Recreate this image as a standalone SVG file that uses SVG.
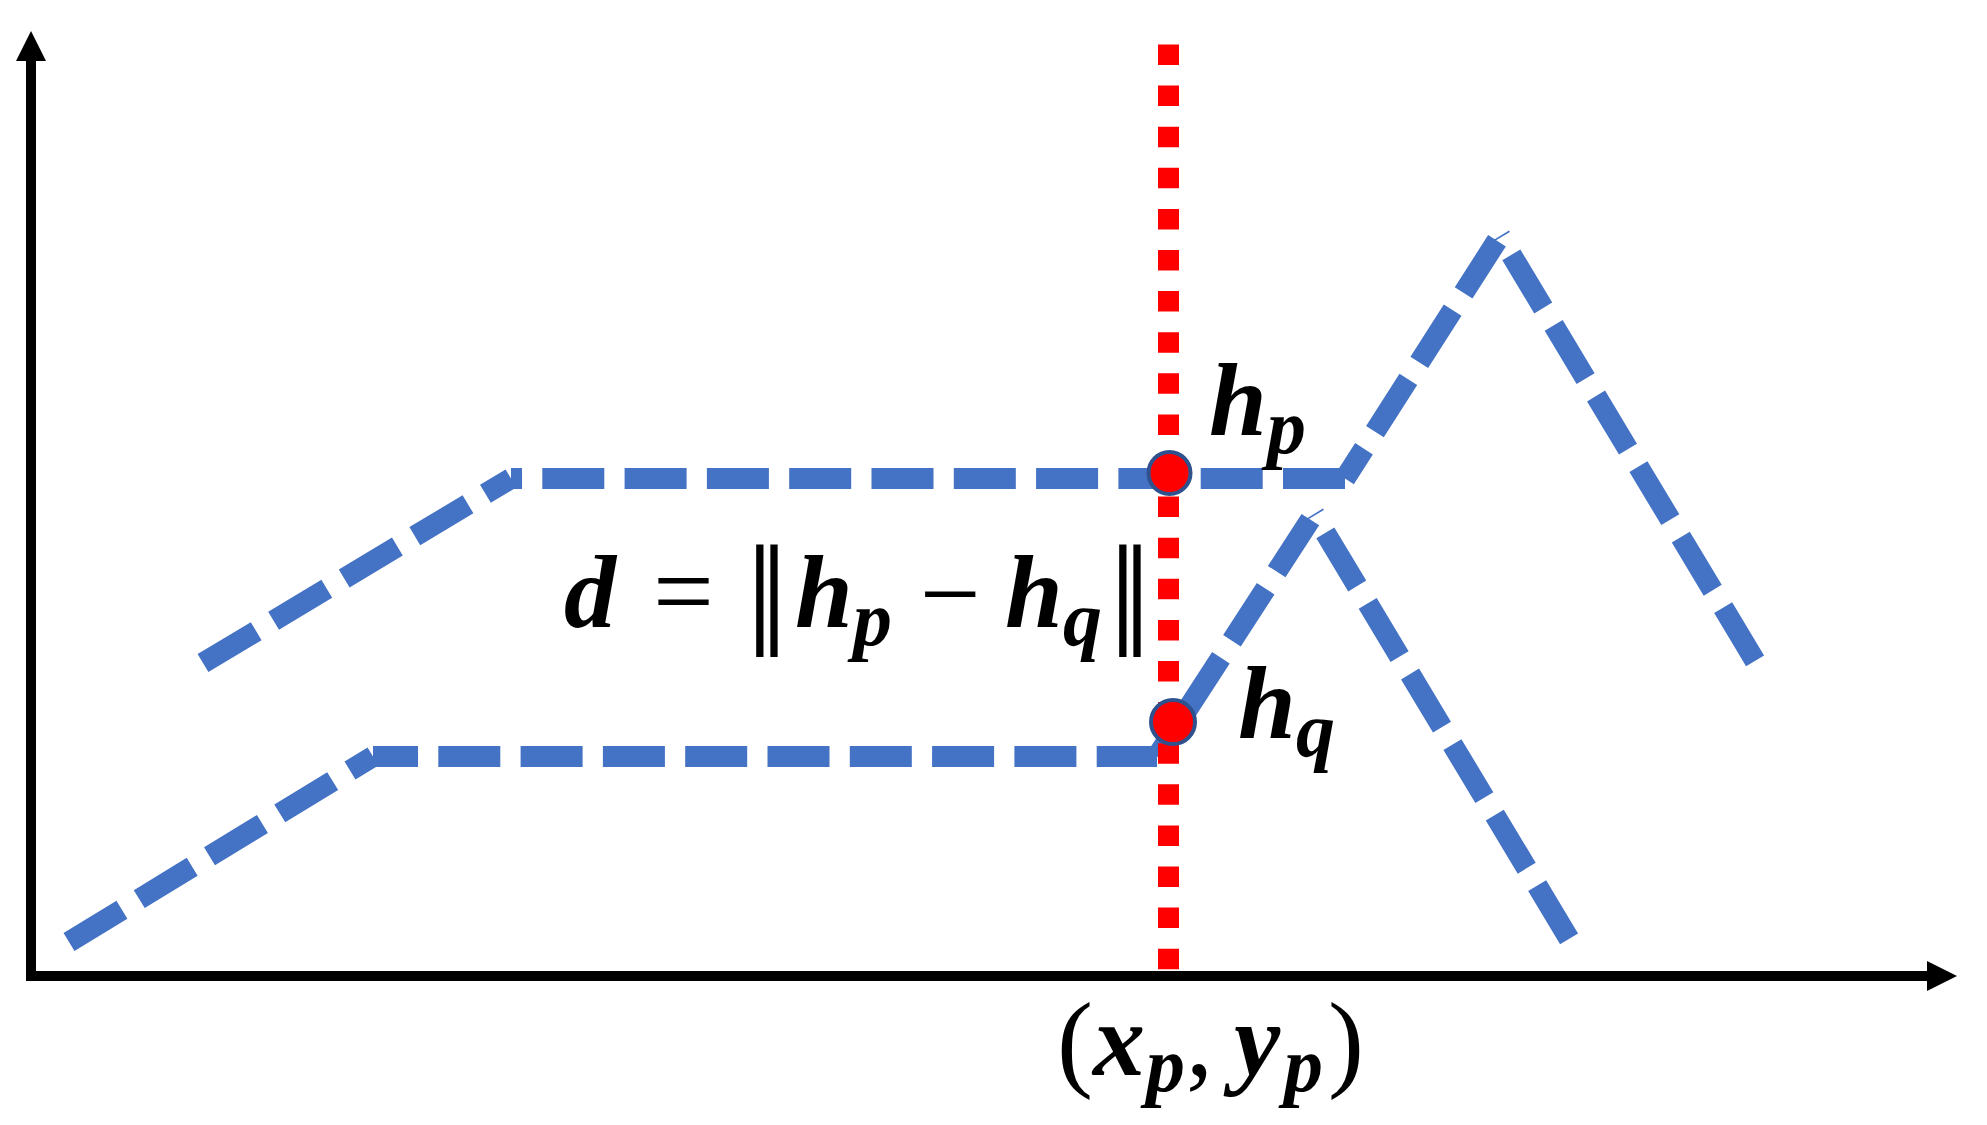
<svg xmlns="http://www.w3.org/2000/svg" width="1987" height="1125" viewBox="0 0 1987 1125">
<style>
.axis{stroke:#000;stroke-width:10;fill:none}
.blue{stroke:#4472C4;stroke-width:21;fill:none;stroke-dasharray:62 20.3}
.red{stroke:#FF0000;stroke-width:21;fill:none;stroke-dasharray:20.5 20.6}
.pt{fill:#FF0000;stroke:#2F528F;stroke-width:4}
.mi{font-family:"Liberation Serif","DejaVu Serif",serif;font-style:italic;font-weight:bold;font-size:104px;fill:#000}
.sub{font-family:"Liberation Serif","DejaVu Serif",serif;font-style:italic;font-weight:bold;font-size:78px;fill:#000}
.mo{font-family:"Liberation Serif","DejaVu Serif",serif;font-size:108px;fill:#000}
.bar{font-family:"DejaVu Sans",sans-serif;font-size:110px;fill:#000}
</style>
<defs>
<marker id="arr" viewBox="0 0 30 30" markerWidth="30" markerHeight="30" refX="0" refY="15" orient="auto" markerUnits="userSpaceOnUse">
<path d="M0,0 L30,15 L0,30 z" fill="#000"/>
</marker>
</defs>
<rect width="1987" height="1125" fill="#fff"/>
<g id="connectors">
<g id="axes">
<line class="axis" x1="31" y1="981" x2="31" y2="61" marker-end="url(#arr)"/>
<line class="axis" x1="26" y1="976" x2="1927" y2="976" marker-end="url(#arr)"/>
</g>
<g id="curve-upper">
<line class="blue" x1="203" y1="663" x2="511" y2="478.5" stroke-dashoffset="0"/>
<line class="blue" x1="511" y1="478.5" x2="1345" y2="478.5" stroke-dashoffset="51"/>
<line class="blue" x1="1345" y1="478.5" x2="1500" y2="236" stroke-dashoffset="26.7"/>
<line class="blue" x1="1500" y1="236" x2="1757" y2="664" stroke-dashoffset="60.3"/>
</g>
<g id="curve-lower">
<line class="blue" x1="69" y1="942" x2="373" y2="756.5" stroke-dashoffset="0"/>
<line class="blue" x1="373" y1="756.5" x2="1157" y2="756.5" stroke-dashoffset="17"/>
<line class="blue" x1="1157" y1="756.5" x2="1314" y2="514" stroke-dashoffset="26.7"/>
<line class="blue" x1="1314" y1="514" x2="1571" y2="942" stroke-dashoffset="60.3"/>
</g>
<g id="vertical">
<line class="red" x1="1168.5" y1="44.5" x2="1168.5" y2="969.2"/>
</g>
</g>
<g id="node-hp">
<circle class="pt" cx="1169.5" cy="473" r="21"/>
<text class="mi" x="1209" y="435">h</text>
<text class="sub" x="1267" y="453">p</text>
</g>
<g id="node-hq">
<circle class="pt" cx="1173" cy="722" r="22"/>
<text class="mi" x="1238" y="738">h</text>
<text class="sub" x="1296" y="756">q</text>
</g>
<g id="formula">
<text class="mi" x="564" y="627">d</text>
<text class="mo" x="683.5" y="627" text-anchor="middle">=</text>
<text class="bar" transform="translate(767,630) scale(0.8,1.02)" x="0" y="0" text-anchor="middle">‖</text>
<text class="mi" x="795" y="627">h</text>
<text class="sub" x="853" y="645">p</text>
<text class="mo" x="950" y="630" text-anchor="middle" font-size="126">−</text>
<text class="mi" x="1005" y="627">h</text>
<text class="sub" x="1063" y="645">q</text>
<text class="bar" transform="translate(1130,630) scale(0.8,1.02)" x="0" y="0" text-anchor="middle">‖</text>
</g>
<g id="coord">
<text class="mo" x="1057" y="1077" font-size="113">(</text>
<text class="mi" x="1093" y="1075">x</text>
<text class="sub" x="1146" y="1091">p</text>
<text class="mo" x="1186" y="1075">,</text>
<text class="mi" x="1234" y="1075">y</text>
<text class="sub" x="1284" y="1091">p</text>
<text class="mo" x="1328" y="1077" font-size="113">)</text>
</g>
</svg>
